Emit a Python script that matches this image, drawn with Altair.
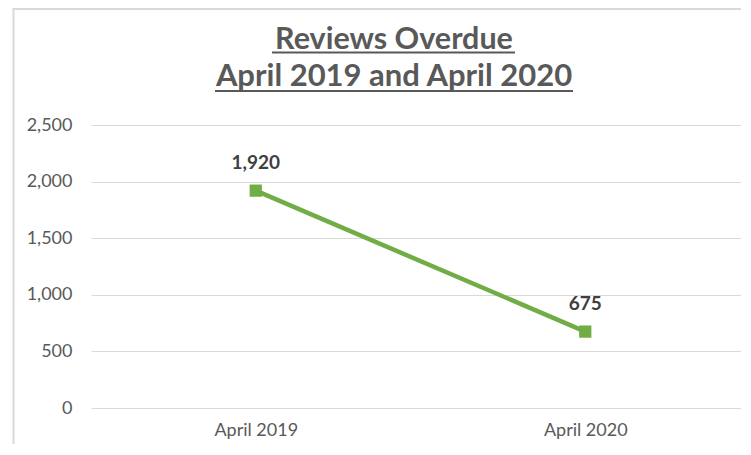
import altair as alt
import pandas as pd

categories = ["April 2019", "April 2020"]
values = [1920, 675]
title_lines = ["Reviews Overdue", "April 2019 and April 2020"]
y_ticks = [0, 500, 1000, 1500, 2000, 2500]

df = pd.DataFrame({"period": categories, "reviews": values})

GREEN = "#70AD47"
GRAY_TXT = "#595959"
GRID = "#D9D9D9"
FONT = "Lato"

x_enc = alt.X("period:N", sort=categories, title=None,
              scale=alt.Scale(type="point", range=[0, 659], padding=0.5),
              axis=alt.Axis(labelAngle=0, domain=False, ticks=False, grid=False,
                            labelFont=FONT, labelFontSize=18, labelColor=GRAY_TXT,
                            labelPadding=13))
y_enc = alt.Y("reviews:Q", title=None,
              scale=alt.Scale(domain=[0, 2500], nice=False),
              axis=alt.Axis(values=y_ticks, format=",d", domain=False, ticks=False,
                            grid=True, gridColor=GRID, gridWidth=1.2,
                            labelFont=FONT, labelFontSize=18, labelColor=GRAY_TXT,
                            labelPadding=19))

base = alt.Chart(df)

line = base.mark_line(color=GREEN, strokeWidth=4.5).encode(x=x_enc, y=y_enc)
points = base.mark_square(color=GREEN, size=150, opacity=1).encode(x=x_enc, y=y_enc)
labels = base.mark_text(font=FONT, fontSize=19, fontWeight="bold", color="#404040",
                        dy=-22, baseline="alphabetic").encode(
    x=x_enc, y=y_enc, text=alt.Text("reviews:Q", format=",d"))

t1 = alt.Chart(pd.DataFrame({"t": [title_lines[0]]})).mark_text(
    font=FONT, fontSize=30.5, fontWeight="bold", color=GRAY_TXT, baseline="alphabetic"
).encode(text="t:N", x=alt.value(303), y=alt.value(-76))
t2 = alt.Chart(pd.DataFrame({"t": [title_lines[1]]})).mark_text(
    font=FONT, fontSize=31, fontWeight="bold", color=GRAY_TXT, baseline="alphabetic"
).encode(text="t:N", x=alt.value(303), y=alt.value(-39))
u1 = alt.Chart(pd.DataFrame({"a": [0]})).mark_rule(color=GRAY_TXT, strokeWidth=2).encode(
    x=alt.value(181), x2=alt.value(424), y=alt.value(-72.5))
u2 = alt.Chart(pd.DataFrame({"a": [0]})).mark_rule(color=GRAY_TXT, strokeWidth=2).encode(
    x=alt.value(124), x2=alt.value(482), y=alt.value(-34))

border_left = alt.Chart(pd.DataFrame({"a": [0]})).mark_rule(color=GRID, strokeWidth=2).encode(
    x=alt.value(-77.5), y=alt.value(-116), y2=alt.value(360))
border_top = alt.Chart(pd.DataFrame({"a": [0]})).mark_rule(color=GRID, strokeWidth=2).encode(
    x=alt.value(-78.5), x2=alt.value(700), y=alt.value(-116))

chart = alt.layer(border_left, border_top, line, points, labels, t1, t2, u1, u2).properties(
    width=650, height=283,
    autosize=alt.AutoSizeParams(type="none"),
    padding={"left": 83, "top": 117, "right": 0, "bottom": 36},
    background="white",
).configure_view(stroke=None)

chart.save("out.html", embed_options={"renderer": "svg", "actions": False})
